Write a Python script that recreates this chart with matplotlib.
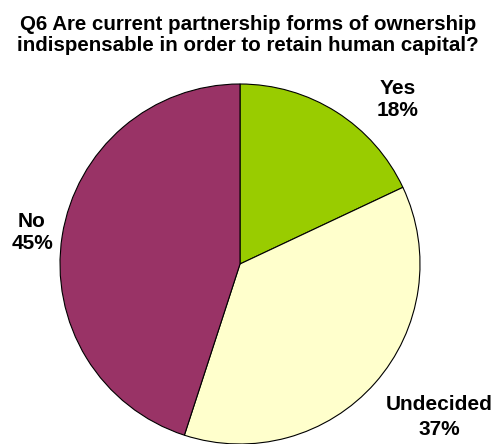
import matplotlib
matplotlib.use("Agg")
import matplotlib.pyplot as plt

categories = ["Yes", "Undecided", "No"]
values = [18, 37, 45]
colors = ["#99CC00", "#FFFFCC", "#993366"]
title = "Q6 Are current partnership forms of ownership\nindispensable in order to retain human capital?"

plt.rcParams['font.family'] = ['Liberation Sans', 'DejaVu Sans']

fig = plt.figure(figsize=(4.96, 4.44), dpi=100)
ax = fig.add_axes([60/496, 0/444, 360/496, 360/444])
ax.pie(values, colors=colors, startangle=90, counterclock=False,
       wedgeprops=dict(edgecolor="black", linewidth=0.8))
ax.set_xlim(-1.0, 1.0)
ax.set_ylim(-1.0, 1.0)
ax.set_aspect("equal")

label_pos = {"Yes": (398, 100, 1.2), "Undecided": (439, 417, 1.35), "No": (32, 232, 1.2)}
for c, v in zip(categories, values):
    x, y, ls = label_pos[c]
    fig.text(x/496, 1 - y/444, f"{c}\n{v}%", ha="center", va="center",
             fontsize=15, fontweight="bold", linespacing=ls)

fig.text(248/496, 1 - 35/444, title, ha="center", va="center",
         fontsize=14.8, fontweight="bold", linespacing=1.15)

fig.savefig("out.png", dpi=100)
